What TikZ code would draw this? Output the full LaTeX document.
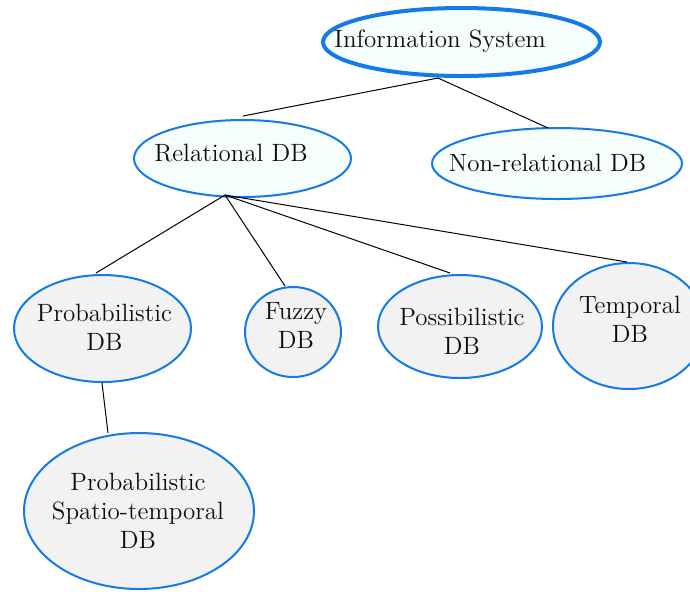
\documentclass[tikz,border=0pt]{standalone}
\usetikzlibrary{shapes.geometric}
\definecolor{rimblue}{RGB}{20,122,232}
\definecolor{paleaqua}{RGB}{245,253,253}
\definecolor{palegray}{RGB}{242,242,242}
\tikzset{
  bubble/.style={ellipse, draw=rimblue, line width=1pt, inner sep=0pt},
  upper/.style={bubble, fill=paleaqua},
  lower/.style={bubble, fill=palegray},
  caption/.style={inner sep=0pt, anchor=base, align=center,
    font=\fontsize{12.5}{14.5}\selectfont, text=black!95},
  link/.style={draw=black, line width=0.5pt}
}
\begin{document}
\begin{tikzpicture}[x=0.5pt,y=-0.5pt]
\useasboundingbox (0,0) rectangle (690,591);

% ellipses of the tree
\node[upper, line width=2pt, minimum width=138.5pt, minimum height=34pt] (info) at (461.5,42) {};
\node[upper, minimum width=108.5pt, minimum height=38.5pt] (rel) at (242.5,158.5) {};
\node[upper, minimum width=125pt, minimum height=35.5pt] (nonrel) at (557,163.5) {};
\node[lower, minimum width=88.5pt, minimum height=53.5pt] (prob) at (102.5,328.5) {};
\node[lower, minimum width=48pt, minimum height=45pt] (fuzzy) at (293,332) {};
\node[lower, minimum width=82pt, minimum height=51.5pt] (poss) at (460,326.5) {};
\node[lower, minimum width=76pt, minimum height=63pt] (temp) at (629,326) {};
\node[lower, minimum width=115pt, minimum height=78pt] (spatio) at (139,511) {};

% captions, placed on their last baseline
\node[caption] (info-text) at (440,47) {Information System};
\node[caption] (rel-text) at (231,161) {Relational DB};
\node[caption] (nonrel-text) at (547.5,171) {Non-relational DB};
\node[caption] (prob-text) at (104.5,350) {Probabilistic\\DB};
\node[caption] (fuzzy-text) at (296,348) {Fuzzy\\DB};
\node[caption] (poss-text) at (462,354) {Possibilistic\\DB};
\node[caption] (temp-text) at (630,342) {Temporal\\DB};
\node[caption] (spatio-text) at (138,548) {Probabilistic\\Spatio-temporal\\DB};

% connector end points
\coordinate (info-out) at (438,78);
\coordinate (rel-in) at (243,116);
\coordinate (nonrel-in) at (548,128);
\coordinate (rel-out) at (225,195);
\coordinate (prob-in) at (96,273);
\coordinate (fuzzy-in) at (285,286);
\coordinate (poss-in) at (450,273);
\coordinate (temp-in) at (627,262);
\coordinate (prob-out) at (102,383);
\coordinate (spatio-in) at (108,433);

\draw[link] (info-out) -- (rel-in);
\draw[link] (info-out) -- (nonrel-in);
\draw[link] (rel-out) -- (prob-in);
\draw[link] (rel-out) -- (fuzzy-in);
\draw[link] (rel-out) -- (poss-in);
\draw[link] (rel-out) -- (temp-in);
\draw[link] (prob-out) -- (spatio-in);
\end{tikzpicture}
\end{document}
